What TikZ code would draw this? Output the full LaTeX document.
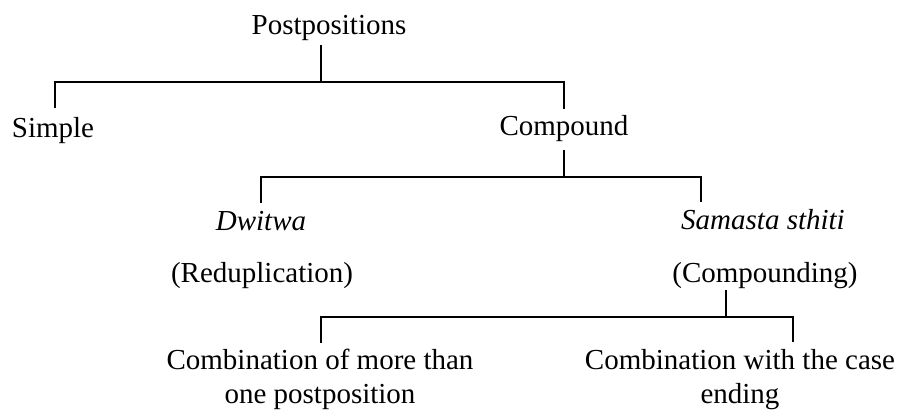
\documentclass[tikz,border=0pt]{standalone}
\usepackage{fontspec}
\setmainfont{Liberation Serif}
\begin{document}
\begin{tikzpicture}[x=1pt,y=-1pt,
  lbl/.style={anchor=base,inner sep=0pt,align=center,font=\fontsize{29}{34}\selectfont},
  itlbl/.style={lbl,font=\fontsize{29}{34}\selectfont\itshape},
  edge/.style={draw=black,line width=1.6pt}]
\useasboundingbox (0,0) rectangle (899,410);
% labels
\node[lbl] (post) at (329,34) {Postpositions};
\node[lbl] (simple) at (53,137) {Simple};
\node[lbl] (comp) at (564,135) {Compound};
\node[itlbl] (dw) at (261,230) {Dwitwa};
\node[lbl] (red) at (262,282) {(Reduplication)};
\node[itlbl] (sam) at (763,229) {Samasta sthiti};
\node[lbl] (cpd) at (765,282) {(Compounding)};
\node[lbl] (c1) at (320,403) {Combination of more than\\one postposition};
\node[lbl] (c2) at (740,403) {Combination with the case\\ending};
% junction coordinates
\coordinate (postb) at (321,45);
\coordinate (j1) at (321,82);
\coordinate (simt) at (55,108);
\coordinate (compt) at (564,109);
\coordinate (compb) at (564,150);
\coordinate (j2) at (564,177);
\coordinate (dwt) at (261,203);
\coordinate (samt) at (701,202);
\coordinate (cpdb) at (726,290);
\coordinate (j3) at (726,317);
\coordinate (c1t) at (321,343);
\coordinate (c2t) at (793,342);
% connectors
\draw[edge] (postb) -- (j1);
\draw[edge] (simt) |- (j1) -| (compt);
\draw[edge] (compb) -- (j2);
\draw[edge] (dwt) |- (j2) -| (samt);
\draw[edge] (cpdb) -- (j3);
\draw[edge] (c1t) |- (j3) -| (c2t);
\end{tikzpicture}
\end{document}
